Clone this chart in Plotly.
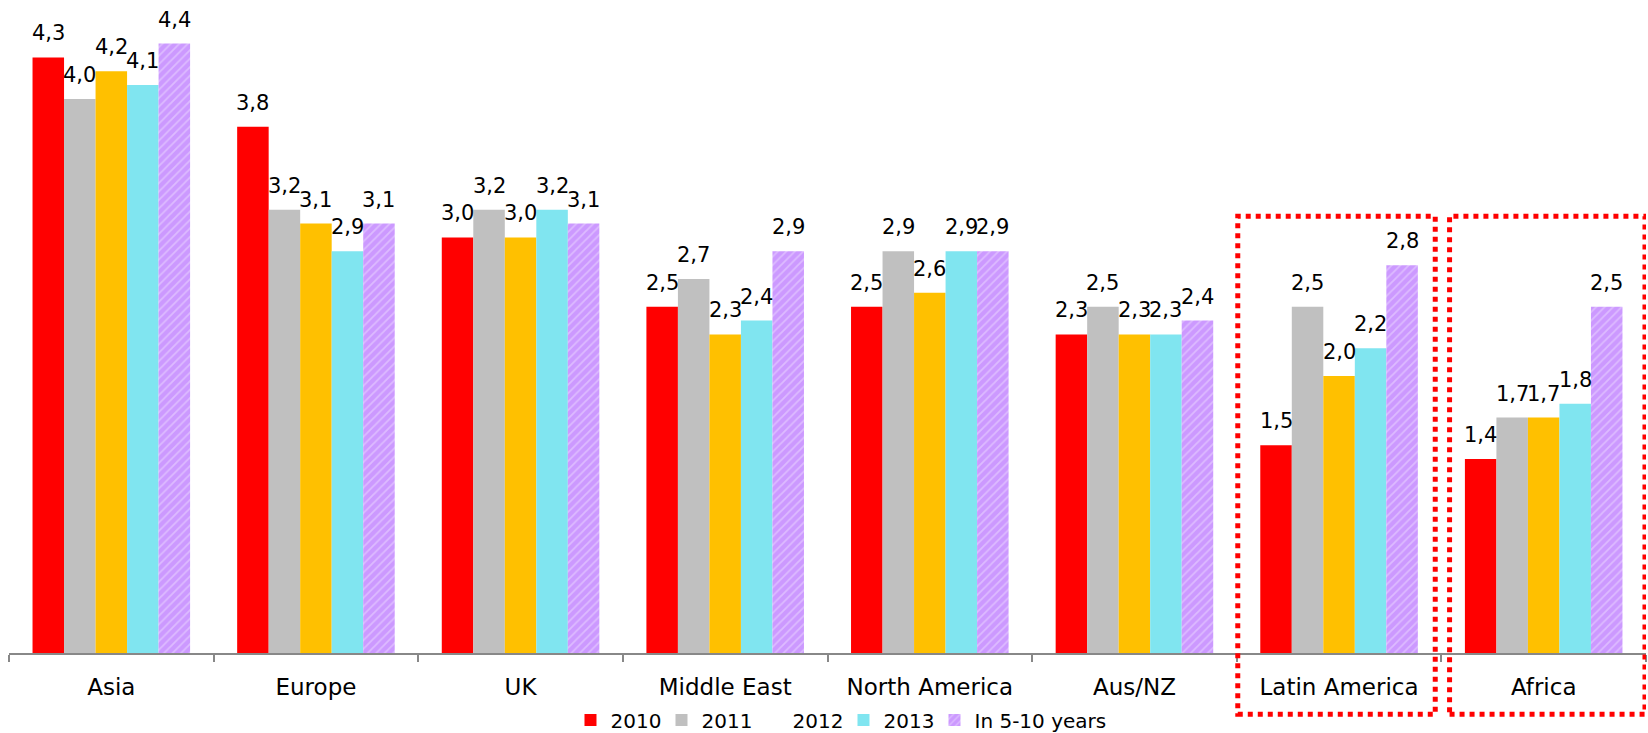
import plotly.graph_objects as go

categories = ["Asia", "Europe", "UK", "Middle East", "North America", "Aus/NZ", "Latin America", "Africa"]
series_names = ["2010", "2011", "2012", "2013", "In 5-10 years"]
v2010 = [4.3, 3.8, 3.0, 2.5, 2.5, 2.3, 1.5, 1.4]
v2011 = [4.0, 3.2, 3.2, 2.7, 2.9, 2.5, 2.5, 1.7]
v2012 = [4.2, 3.1, 3.0, 2.3, 2.6, 2.3, 2.0, 1.7]
v2013 = [4.1, 2.9, 3.2, 2.4, 2.9, 2.3, 2.2, 1.8]
v510 = [4.4, 3.1, 3.1, 2.9, 2.9, 2.4, 2.8, 2.5]
highlighted = ["Latin America", "Africa"]

colors = ["#FF0000", "#C0C0C0", "#FFC000", "#80E5F0", "#CC99FF"]
FONT = "DejaVu Sans"
BARGAP = 0.23

fig = go.Figure()
series_vals = [v2010, v2011, v2012, v2013, v510]
n = len(series_vals)
slot = (1 - BARGAP) / n
for i, (name, vals) in enumerate(zip(series_names, series_vals)):
    marker = dict(color=colors[i], line=dict(width=0))
    if i == 4:
        marker["pattern"] = dict(shape="/", fgcolor="#DDBBFF", bgcolor="#CC99FF",
                                 size=6, solidity=0.3, fillmode="replace")
    extra = {"legendwidth": 150} if i == n - 1 else {}
    fig.add_trace(go.Bar(
        x=categories, y=vals, name=name, marker=marker,
        showlegend=(i != 2), **extra,
    ))
    if i == 2:
        # legend entry for 2012 shown without a colour swatch (as in the reference)
        fig.add_trace(go.Scatter(x=[None], y=[None], name=name, mode="markers",
                                 marker=dict(color="rgba(0,0,0,0)", size=1)))
    # value labels above each bar, positioned on the data scale
    off = (i - (n - 1) / 2) * slot
    for j, v in enumerate(vals):
        fig.add_annotation(x=j + off, y=v, xref="x", yref="y", text=f"{v:.1f}".replace(".", ","),
                           showarrow=False, yanchor="bottom", xanchor="center", yshift=10,
                           font=dict(family=FONT, size=21, color="black"))

# dotted highlight boxes around Latin America and Africa
for cat in highlighted:
    idx = categories.index(cat)
    if cat == "Latin America":
        x0, x1 = idx - 0.495, idx + 0.47
    else:
        x0, x1 = idx - 0.46, idx + 0.495
    fig.add_shape(type="rect", xref="x", yref="paper", x0=x0, x1=x1, y0=-0.094, y1=0.671,
                  line=dict(color="#FF0000", width=5, dash="5px,5px"), fillcolor="rgba(0,0,0,0)")

fig.update_layout(
    width=1648, height=733, autosize=False,
    margin=dict(l=9, r=2, t=2, b=80, autoexpand=False),
    paper_bgcolor="white", plot_bgcolor="white",
    barmode="group", bargap=BARGAP, bargroupgap=0,
    font=dict(family=FONT, size=20, color="black"),
    legend=dict(orientation="h", x=0.343, xanchor="left", y=-0.103, yanchor="middle",
                entrywidth=46, entrywidthmode="pixels",
                font=dict(family=FONT, size=20, color="black"), bgcolor="rgba(0,0,0,0)"),
    xaxis=dict(type="category", range=[-0.5, 7.5], showline=True, linecolor="#888888", linewidth=2,
               ticks="outside", tickson="boundaries", ticklen=7, tickwidth=2, tickcolor="#888888",
               tickfont=dict(family=FONT, size=23, color="black"), ticklabelstandoff=12,
               showgrid=False, zeroline=False, automargin=False),
    yaxis=dict(range=[0, 4.7], visible=False, showgrid=False, zeroline=False),
)

fig.write_html("out.html", config={"displayModeBar": False},
               post_script="document.body.style.margin='0';")
